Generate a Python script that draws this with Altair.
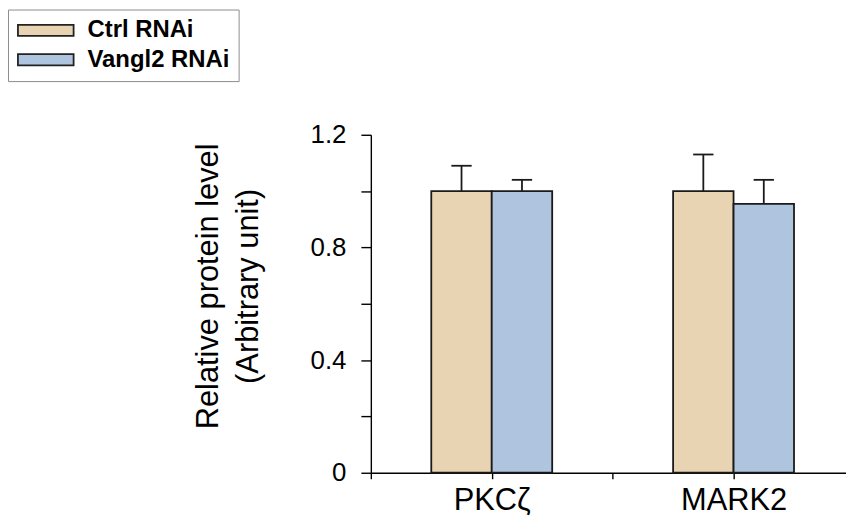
import altair as alt
import pandas as pd

# ---- data ----
proteins = ["PKCζ", "MARK2"]
groups = ["Ctrl RNAi", "Vangl2 RNAi"]
ctrl_mean = [1.0, 1.0]
ctrl_err = [0.09, 0.13]
vangl_mean = [1.0, 0.955]
vangl_err = [0.04, 0.085]
group_colors = ["#E8D3B3", "#AFC4DE"]
y_tick_values = [0, 0.2, 0.4, 0.6, 0.8, 1.0, 1.2]
y_label_values = [0, 0.4, 0.8, 1.2]
y_title = ["Relative protein level", "(Arbitrary unit)"]

FONT = "Liberation Sans"
BAR_W = 0.25      # bar width as a fraction of one category slot
CAP_HALF = 0.042  # half width of the error-bar cap

records = []
for i, p in enumerate(proteins):
    means = [ctrl_mean[i], vangl_mean[i]]
    errs = [ctrl_err[i], vangl_err[i]]
    for j, g in enumerate(groups):
        records.append({"protein": p, "group": g, "mean": means[j],
                        "err": errs[j], "pi": i, "gi": j})
df = pd.DataFrame(records)

x_label_expr = " : ".join(
    [f"datum.value == {i + 0.5} ? '{p}'" for i, p in enumerate(proteins)]
) + " : ''"

x_scale = alt.Scale(domain=[0, 1.965], nice=False, zero=False)
y_scale = alt.Scale(domain=[0, 1.2], nice=False)

x_axis = alt.Axis(
    values=[0, 0.5, 1.0, 1.5], labelExpr=x_label_expr, title=None,
    grid=False, domainColor="black", domainWidth=1.4, tickColor="black",
    tickWidth=1.4, tickSize=6, labelPadding=7, labelFont=FONT,
    labelFontSize=31, labelColor="black", labelAngle=0,
)
y_axis = alt.Axis(
    values=y_tick_values,
    labelExpr=f"indexof({y_label_values}, datum.value) >= 0 ? format(datum.value, '~g') : ''",
    title=y_title, titleFont=FONT, titleFontSize=31, titleFontWeight="normal",
    titleColor="black", titleLineHeight=40, titlePadding=46, titleY=152,
    grid=False, domainColor="black", domainWidth=1.4, tickColor="black",
    tickWidth=1.4, tickSize=10, labelPadding=15, labelFont=FONT,
    labelFontSize=26, labelColor="black",
)

base = alt.Chart(df).transform_calculate(
    x0=f"datum.pi + 0.5 + (datum.gi - 1) * {BAR_W}",
).transform_calculate(
    x1=f"datum.x0 + {BAR_W}",
    xc=f"datum.x0 + {BAR_W / 2}",
    top="datum.mean + datum.err",
).transform_calculate(
    c0=f"datum.xc - {CAP_HALF}",
    c1=f"datum.xc + {CAP_HALF}",
)

legend = alt.Legend(
    title=None, orient="none", legendX=-365, legendY=-126,
    symbolType="M-1,-0.2H1V0.2H-1Z", symbolSize=3136,
    symbolStrokeColor="#222222", symbolStrokeWidth=1.8, symbolOpacity=1,
    clipHeight=24, labelFont=FONT, labelFontSize=24, labelFontWeight="bold",
    labelColor="black", labelOffset=13, labelLimit=400, rowPadding=5.5,
    padding=9, strokeColor="#8c8c8c", fillColor="white", cornerRadius=0,
)

bars = base.mark_bar(stroke="#1a1a1a", strokeWidth=1.8, opacity=1).encode(
    x=alt.X("x0:Q", scale=x_scale, axis=x_axis),
    x2="x1:Q",
    y=alt.Y("mean:Q", scale=y_scale, axis=y_axis),
    y2=alt.datum(0),
    color=alt.Color("group:N", scale=alt.Scale(domain=groups, range=group_colors),
                    legend=legend),
)

err_line = base.mark_rule(color="#1a1a1a", strokeWidth=1.8).encode(
    x=alt.X("xc:Q", scale=x_scale),
    y=alt.Y("mean:Q", scale=y_scale),
    y2="top:Q",
)

err_cap = base.mark_rule(color="#1a1a1a", strokeWidth=1.8).encode(
    x=alt.X("c0:Q", scale=x_scale),
    x2="c1:Q",
    y=alt.Y("top:Q", scale=y_scale),
)

chart = alt.layer(err_line, err_cap, bars).properties(
    width=478, height=340,
    autosize=alt.AutoSizeParams(type="none"),
    padding={"left": 365, "top": 126, "right": 0, "bottom": 48},
    background="white",
).configure_view(strokeWidth=0)

chart.save("out.html", embed_options={"renderer": "svg", "actions": False})
